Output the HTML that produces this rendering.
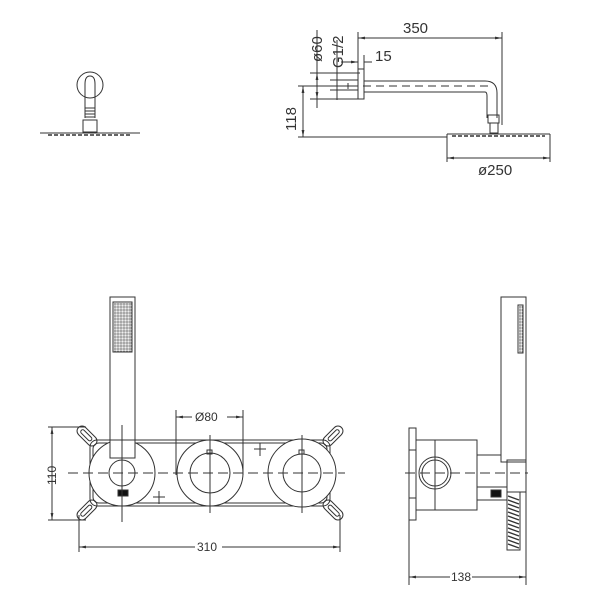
<!DOCTYPE html>
<html><head><style>
html,body{margin:0;padding:0;background:#fff;}
svg{display:block;}
text{font-family:"Liberation Sans",sans-serif;fill:#333;}
</style></head><body>
<svg width="612" height="592" viewBox="0 0 612 592" xmlns="http://www.w3.org/2000/svg">
<defs>
<marker id="a" viewBox="0 0 10 10" refX="10" refY="5" markerWidth="7" markerHeight="7" orient="auto-start-reverse"><path d="M0,3 L10,5 L0,7z" fill="#333"/></marker>
<pattern id="g" width="3" height="3" patternUnits="userSpaceOnUse"><rect width="3" height="3" fill="#fff"/><rect x="0" y="0" width="2" height="2" fill="none" stroke="#555" stroke-width="0.6"/></pattern>
</defs>
<g stroke="#333" stroke-width="1" fill="none">
<!-- top-left shower front -->
<circle cx="90" cy="85" r="13"/>
<path d="M85,118 L85,84 Q85,76 90,76 Q95,76 95,84 L95,118"/>
<rect x="85" y="108" width="10" height="3"/><rect x="85" y="114" width="10" height="3"/>
<rect x="83" y="120" width="14" height="12"/>
<line x1="40" y1="133" x2="140" y2="133"/>
<line x1="48" y1="135" x2="132" y2="135" stroke-dasharray="4,2" stroke-width="1.5"/>

<!-- top-right side view -->
<line x1="358" y1="38" x2="502" y2="38" marker-start="url(#a)" marker-end="url(#a)"/>
<line x1="358" y1="32" x2="358" y2="69"/><line x1="502" y1="32" x2="502" y2="125"/>
<rect x="358" y="69" width="6" height="30"/>
<path d="M364,81 L485,81 Q497,81 497,93 L497,118 M364,92 L485,92 Q487,92 487,96 L487,118"/>
<line x1="350" y1="86" x2="492" y2="86" stroke-dasharray="8,5"/>
<rect x="488" y="115" width="11" height="8"/><rect x="490" y="123" width="8" height="10"/>
<line x1="447" y1="134" x2="550" y2="134"/>
<line x1="452" y1="136" x2="545" y2="136" stroke-dasharray="4,2" stroke-width="1.5"/>
<line x1="447" y1="134" x2="447" y2="162"/><line x1="550" y1="134" x2="550" y2="162"/>
<line x1="447" y1="158" x2="550" y2="158" marker-start="url(#a)" marker-end="url(#a)"/>
<line x1="298" y1="137" x2="447" y2="137"/>
<line x1="298" y1="86" x2="358" y2="86"/>
<line x1="303" y1="86" x2="303" y2="137" marker-start="url(#a)" marker-end="url(#a)"/>
<line x1="317" y1="30" x2="317" y2="108"/>
<line x1="337" y1="40" x2="337" y2="100"/>
<line x1="310" y1="73" x2="360" y2="73"/><line x1="330" y1="80" x2="358" y2="80"/>
<line x1="330" y1="90" x2="358" y2="90"/><line x1="310" y1="99" x2="358" y2="99"/>
<line x1="317" y1="73" x2="317" y2="99" marker-start="url(#a)" marker-end="url(#a)"/>
<line x1="337" y1="80" x2="337" y2="90"/>
<line x1="348" y1="83" x2="348" y2="89"/>
<line x1="341" y1="62" x2="358" y2="62" marker-end="url(#a)"/>
<line x1="364" y1="62" x2="372" y2="62"/>
<line x1="364" y1="55" x2="364" y2="69"/>

<!-- bottom-left front -->
<rect x="110" y="297" width="25" height="161"/>
<rect x="113" y="302" width="19" height="50" fill="url(#g)"/>
<rect x="90" y="440" width="240" height="66" rx="7"/>
<rect x="93" y="443" width="234" height="60" rx="6"/>
<circle cx="122" cy="473" r="33" fill="#fff"/><circle cx="122" cy="473" r="13"/>
<rect x="110" y="440" width="25" height="18" fill="#fff"/>
<rect x="118" y="490" width="10" height="6" fill="#111"/>
<circle cx="210" cy="473" r="33" fill="#fff"/><circle cx="210" cy="473" r="20"/>
<rect x="207" y="450" width="5" height="4"/>
<circle cx="302" cy="473" r="34" fill="#fff"/><circle cx="302" cy="473" r="19"/>
<rect x="299" y="450" width="5" height="4"/>
<line x1="68" y1="473" x2="345" y2="473" stroke-dasharray="10,5"/>
<line x1="122" y1="425" x2="122" y2="522"/>
<line x1="210" y1="435" x2="210" y2="513"/>
<line x1="302" y1="435" x2="302" y2="513"/>
<line x1="260" y1="443" x2="260" y2="456"/><line x1="254" y1="449" x2="266" y2="449"/>
<line x1="159" y1="491" x2="159" y2="504"/><line x1="153" y1="497" x2="165" y2="497"/>
<!-- ears -->
<g transform="translate(87,436) rotate(-45)"><rect x="-5" y="-12" width="10" height="24" rx="5"/><rect x="-2" y="-8" width="4" height="14" rx="2"/></g>
<g transform="translate(87,510) rotate(45)"><rect x="-5" y="-12" width="10" height="24" rx="5"/><rect x="-2" y="-6" width="4" height="14" rx="2"/></g>
<g transform="translate(333,436) rotate(45)"><rect x="-5" y="-12" width="10" height="24" rx="5"/><rect x="-2" y="-8" width="4" height="14" rx="2"/></g>
<g transform="translate(333,510) rotate(-45)"><rect x="-5" y="-12" width="10" height="24" rx="5"/><rect x="-2" y="-6" width="4" height="14" rx="2"/></g>
<!-- dims -->
<line x1="176" y1="410" x2="176" y2="475"/><line x1="243" y1="410" x2="243" y2="475"/>
<line x1="176" y1="417" x2="192" y2="417" marker-start="url(#a)"/>
<line x1="227" y1="417" x2="243" y2="417" marker-end="url(#a)"/>
<line x1="48" y1="427" x2="86" y2="427"/><line x1="48" y1="520" x2="86" y2="520"/>
<line x1="52" y1="427" x2="52" y2="520" marker-start="url(#a)" marker-end="url(#a)"/>
<line x1="79" y1="515" x2="79" y2="552"/><line x1="340" y1="515" x2="340" y2="552"/>
<line x1="79" y1="547" x2="195" y2="547" marker-start="url(#a)"/>
<line x1="222" y1="547" x2="340" y2="547" marker-end="url(#a)"/>

<!-- bottom-right side -->
<rect x="409" y="428" width="7" height="22"/><rect x="409" y="498" width="7" height="22"/>
<line x1="409" y1="450" x2="409" y2="585"/>
<rect x="416" y="440" width="61" height="70"/>
<circle cx="435" cy="473" r="16"/><circle cx="435" cy="473" r="13"/>
<line x1="435" y1="440" x2="435" y2="510"/>
<line x1="405" y1="473" x2="528" y2="473" stroke-dasharray="10,5"/>
<rect x="501" y="297" width="25" height="165"/>
<rect x="518" y="305" width="5" height="48" fill="url(#g)"/>
<path d="M477,455 L501,455 M477,500 L507,500 M477,487 L507,487"/>
<rect x="507" y="460" width="19" height="32"/>
<rect x="491" y="490" width="10" height="7" fill="#111"/>
<path d="M507,492 L507,550 L520,550 L520,492" stroke-width="1"/>
<path d="M508,496 L519,500 M508,500 L519,504 M508,504 L519,508 M508,508 L519,512 M508,512 L519,516 M508,516 L519,520 M508,520 L519,524 M508,524 L519,528 M508,528 L519,532 M508,532 L519,536 M508,536 L519,540 M508,540 L519,544 M508,544 L519,548" stroke-width="1.3"/>
<line x1="526" y1="462" x2="526" y2="585"/>
<line x1="409" y1="577" x2="450" y2="577" marker-start="url(#a)"/>
<line x1="472" y1="577" x2="526" y2="577" marker-end="url(#a)"/>
</g>
<g font-size="15">
<text x="403" y="33">350</text>
<text x="375" y="61">15</text>
<text x="478" y="175">ø250</text>
<text transform="translate(296,131) rotate(-90)">118</text>
<text transform="translate(322,62) rotate(-90)">ø60</text>
<text transform="translate(343,68) rotate(-90)">G1/2</text>
</g>
<g font-size="12">
<text x="195" y="421">Ø80</text>
<text transform="translate(56,485) rotate(-90)">110</text>
<text x="197" y="551">310</text>
<text x="451" y="581">138</text>
</g>
</svg>
</body></html>
